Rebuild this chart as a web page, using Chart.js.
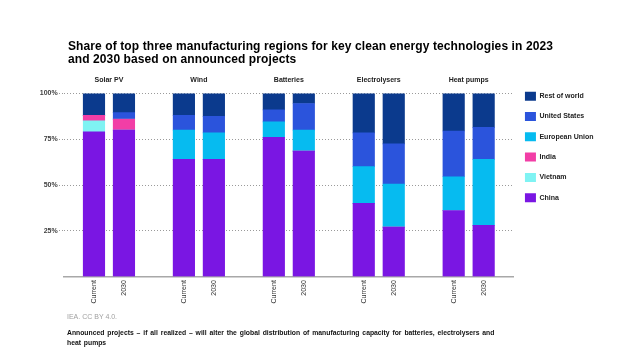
<!DOCTYPE html>
<html>
<head>
<meta charset="utf-8">
<script src="https://cdn.jsdelivr.net/npm/chart.js@4.4.1/dist/chart.umd.min.js"></script>
<style>
  body { margin: 0; background: #fff; font-family: "Liberation Sans", Arial, sans-serif; }
  #wrap { position: relative; width: 620px; height: 364px; overflow: hidden; }
  #myChart { position: absolute; left: 0; top: 0; }
  .title { position: absolute; left: 68px; top: 40px; font-size: 12px; line-height: 13px; font-weight: bold; color: #000; white-space: nowrap; letter-spacing: 0.1px; }
  .source { position: absolute; left: 67px; top: 313px; font-size: 7px; color: #a0a0a0; white-space: nowrap; }
  .note { position: absolute; left: 67px; top: 328px; font-size: 6.8px; line-height: 9.7px; font-weight: bold; color: #111; white-space: nowrap; word-spacing: 1px; }
</style>
</head>
<body>
<div id="wrap">
  <canvas id="myChart" width="620" height="364"></canvas>
  <div class="title">Share of top three manufacturing regions for key clean energy technologies in 2023<br>and 2030 based on announced projects</div>
  <div class="source">IEA. CC BY 4.0.</div>
  <div class="note">Announced projects – if all realized – will alter the global distribution of manufacturing capacity for batteries, electrolysers and<br>heat pumps</div>
</div>
<script>
'use strict'

// 技術と期間
const technologies = ['Solar PV', 'Wind', 'Batteries', 'Electrolysers', 'Heat pumps'];
const periods = ['Current', '2030'];

// 地域ごとのシェア (%), 各技術 Current, 2030 の順
const china    = [79, 80,   64, 64,     76, 68.5,  40, 27,     36, 28];
const vietnam  = [6, 0,     0, 0,       0, 0,      0, 0,       0, 0];
const india    = [3, 6,     0, 0,       0, 0,      0, 0,       0, 0];
const eu       = [0, 0,     16, 14.5,   8.5, 11.5, 20, 23.5,   18.5, 36];
const us       = [0, 3.5,   8, 9,       6.5, 14.5, 18.5, 22,   25, 17.5];
const rest     = [12, 10.5, 12, 12.5,   9, 5.5,    21.5, 27.5, 20.5, 18.5];

const yTicks = [0, 25, 50, 75, 100];

// 空白スロットを挟んだラベル
const labels = [''];
technologies.forEach(() => { labels.push(...periods, ''); });

function spread(values) {
    const out = [null];
    for (let i = 0; i < technologies.length; i++) {
        out.push(values[i * 2], values[i * 2 + 1], null);
    }
    return out;
}

const series = [
    { label: 'China', data: china, color: '#7a16e3' },
    { label: 'Vietnam', data: vietnam, color: '#7ff3f3' },
    { label: 'India', data: india, color: '#f23ea6' },
    { label: 'European Union', data: eu, color: '#06bbf0' },
    { label: 'United States', data: us, color: '#2b54dc' },
    { label: 'Rest of world', data: rest, color: '#0b3a8d' }
];

const font = '"Liberation Sans", Arial, sans-serif';

let ctx = document.getElementById('myChart');
window.myChart = new Chart(ctx, {
    type: 'bar',
    data: {
        labels: labels,
        datasets: series.map(s => ({
            label: s.label,
            data: spread(s.data),
            backgroundColor: s.color,
            borderWidth: 0,
            barThickness: 21.5
        }))
    },
    options: {
        responsive: false,
        animation: false,
        layout: { padding: { left: 38.5, right: 16.5, top: 66.6, bottom: 57 } },
        plugins: {
            tooltip: { enabled: false },
            title: { display: false },
            legend: {
                position: 'right',
                align: 'start',
                reverse: true,
                title: { display: true, text: ' ', padding: 0, font: { size: 13.8, lineHeight: 1 } },
                labels: {
                    boxWidth: 11,
                    boxHeight: 9,
                    padding: 11.3,
                    color: '#222',
                    font: { family: font, size: 7, weight: 'bold' }
                }
            }
        },
        scales: {
            x: {
                stacked: true,
                offset: false,
                grid: { display: false, drawTicks: false },
                border: { display: true, color: '#a8a8a8', width: 1.5 },
                ticks: {
                    autoSkip: false,
                    maxRotation: 90,
                    minRotation: 90,
                    padding: 3.5,
                    color: '#333',
                    font: { family: font, size: 7 }
                }
            },
            groups: {
                type: 'category',
                position: 'top',
                labels: technologies,
                offset: true,
                grid: { display: false, drawTicks: false },
                border: { display: false },
                ticks: {
                    padding: 9.9,
                    color: '#222',
                    font: { family: font, size: 7, weight: 'bold', lineHeight: 1 }
                }
            },
            y: {
                stacked: true,
                min: 0,
                max: 100,
                afterBuildTicks: axis => { axis.ticks = yTicks.map(v => ({ value: v })); },
                border: { display: false, dash: [1, 2] },
                grid: {
                    color: c => (c.tick && c.tick.value === 0) ? 'rgba(0,0,0,0)' : '#9a9a9a',
                    lineWidth: 1,
                    tickBorderDash: [1, 2],
                    tickLength: 5
                },
                ticks: {
                    padding: 1.3,
                    color: '#404040',
                    font: { family: font, size: 7, weight: 'bold' },
                    callback: v => v === 0 ? '' : v + '%'
                }
            }
        }
    }
});
</script>
</body>
</html>
